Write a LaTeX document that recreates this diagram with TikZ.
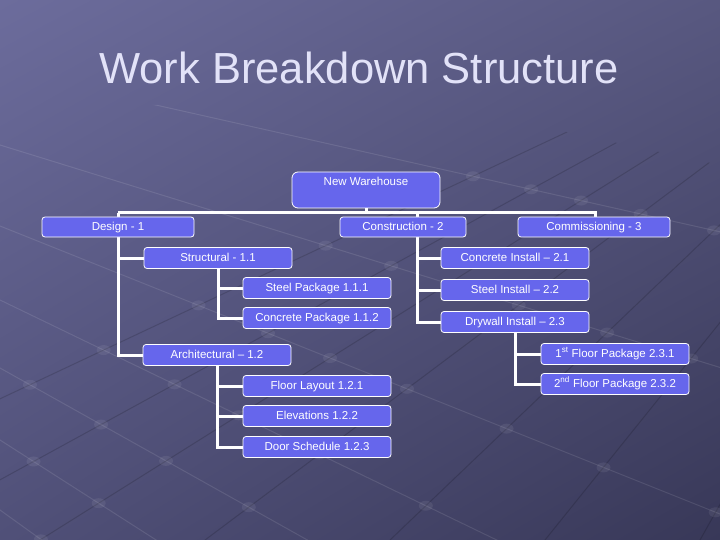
\documentclass[tikz,border=0pt]{standalone}
\usepackage{fontspec}
\setmainfont{Liberation Sans}
\usetikzlibrary{calc, positioning, shadings}

\definecolor{boxblue}{RGB}{102,102,236}
\definecolor{titlecol}{RGB}{226,226,248}
\definecolor{bgtl}{RGB}{108,108,156}
\definecolor{bgtr}{RGB}{88,88,128}
\definecolor{bgbl}{RGB}{80,80,120}
\definecolor{bgbr}{RGB}{56,56,88}

\pgfdeclarelayer{bg}
\pgfdeclarelayer{links}
\pgfsetlayers{bg,links,main}

\begin{document}
\begin{tikzpicture}[x=1pt, y=-1pt,
  wbs/.style={draw=white, line width=0.8pt, fill=boxblue, rounded corners=3pt,
    text=white, minimum height=21pt, minimum width=148pt, inner sep=2pt,
    text height=8.5pt, text depth=2.5pt, font=\fontsize{11.5}{13}\selectfont},
  link/.style={draw=white, line width=3pt},
  gridlight/.style={white, opacity=0.1, line width=1pt},
  griddark/.style={black, opacity=0.15, line width=1pt},
  griddot/.style={fill=white, opacity=0.07}]

\begin{pgfonlayer}{bg}
\shade[upper left=bgtl, upper right=bgtr, lower left=bgbl, lower right=bgbr]
  (0,0) rectangle (720,540);
% faint floor grid
\coordinate (VA) at (-890,-130);
\coordinate (VB) at (1060,-100);
\begin{scope}
\clip (0,105) -- (440,105) -- (720,165) -- (720,540) -- (0,540) -- cycle;
\foreach \a in {0,70,145,226,300,368,440,510}
  \draw[gridlight] (VA) -- ($(VA)!1.9!(0,\a)$);
\foreach \b in {-300,-110,40,205,390,545,700,860,1000}
  \draw[griddark] (\b,540) -- (VB);
\foreach \a in {0,70,145,226,300,368,440,510}
  \foreach \b in {-300,-110,40,205,390,545,700,860,1000} {
    \coordinate (pa) at (0,\a);
    \coordinate (pb) at (\b,540);
    \fill[griddot] (intersection of VA--pa and VB--pb) ellipse [x radius=7, y radius=5];
  }
\end{scope}
\end{pgfonlayer}
\useasboundingbox (0,0) rectangle (720,540);

\node[text=titlecol, font=\fontsize{43.5}{50}\selectfont] (title) at (359,68) {Work Breakdown Structure};

% level 0 and 1
\node[wbs, rounded corners=6pt, minimum height=36pt, text height=11pt, text depth=19pt, inner sep=2.5pt] (root) at (366,190) {New Warehouse};
\node[wbs, minimum width=152pt, minimum height=20pt] (d1) at (118,227) {Design - 1};
\node[wbs, minimum width=126pt, minimum height=20pt] (c2) at (403,227) {Construction - 2};
\node[wbs, minimum width=152pt, minimum height=20pt] (m3) at (594,227) {Commissioning - 3};

% design branch
\node[wbs] (s11) at (218,258) {Structural - 1.1};
\node[wbs] (p111) at (317,288) {Steel Package 1.1.1};
\node[wbs] (p112) at (317,318) {Concrete Package 1.1.2};
\node[wbs] (a12) at (217,355) {Architectural -- 1.2};
\node[wbs] (f121) at (317,386) {Floor Layout 1.2.1};
\node[wbs] (e122) at (317,416) {Elevations 1.2.2};
\node[wbs] (ds123) at (317,447) {Door Schedule 1.2.3};

% construction branch
\node[wbs] (ci21) at (515,258) {Concrete Install -- 2.1};
\node[wbs] (si22) at (515,290) {Steel Install -- 2.2};
\node[wbs] (dw23) at (515,322) {Drywall Install -- 2.3};
\node[wbs] (fp231) at (615,354) {1\textsuperscript{st} Floor Package 2.3.1};
\node[wbs] (fp232) at (615,384) {2\textsuperscript{nd} Floor Package 2.3.2};

\coordinate (barL) at (118,213);
\coordinate (barR) at (595,213);
\coordinate (cdrop) at (417,213);

\begin{pgfonlayer}{links}
\draw[link] (root.south) -- (root.south |- barL);
\draw[link] (barL) -- (barR) -- (m3.north -| barR);
\draw[link] (barL) -- (barL |- a12.west) -- (a12.west);
\draw[link] (barL |- s11.west) -- (s11.west);

\draw[link] (s11.south) -- (s11.south |- p112.west) -- (p112.west);
\draw[link] (s11.south |- p111.west) -- (p111.west);

\draw[link] (a12.south) -- (a12.south |- ds123.west) -- (ds123.west);
\draw[link] (a12.south |- f121.west) -- (f121.west);
\draw[link] (a12.south |- e122.west) -- (e122.west);

\draw[link] (cdrop) -- (cdrop |- dw23.west) -- (dw23.west);
\draw[link] (cdrop |- ci21.west) -- (ci21.west);
\draw[link] (cdrop |- si22.west) -- (si22.west);

\draw[link] (dw23.south) -- (dw23.south |- fp232.west) -- (fp232.west);
\draw[link] (dw23.south |- fp231.west) -- (fp231.west);
\end{pgfonlayer}

\end{tikzpicture}
\end{document}
